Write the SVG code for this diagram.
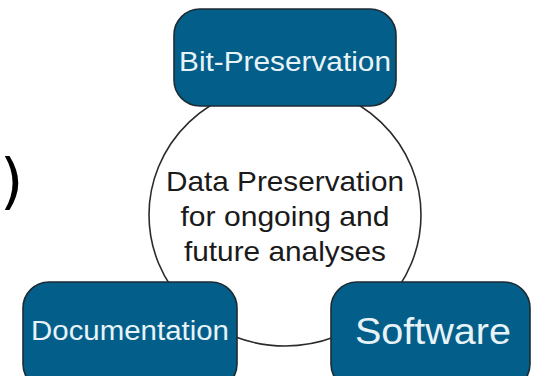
<svg xmlns="http://www.w3.org/2000/svg" width="533" height="376" viewBox="0 0 533 376">
  <style>
    .box { fill: #035f8a; stroke: #1d2b33; stroke-width: 1.6; }
    .hub { fill: #ffffff; stroke: #2b2b2b; stroke-width: 1.6; }
    .lbl { font-family: "Liberation Sans", Arial, sans-serif; fill: #e8f3f8; text-anchor: middle; }
    .hubtxt { font-family: "Liberation Sans", Arial, sans-serif; fill: #1a1a1a; text-anchor: middle; font-size: 28px; }
  </style>
  <rect width="533" height="376" fill="#ffffff"/>

  <!-- stray closing bracket at the left margin -->
  <text x="0" y="202" font-family="DejaVu Sans, sans-serif" font-size="60" fill="#000000">)</text>

  <g id="connectors"/>

  <!-- central goal -->
  <g id="node-data-preservation">
    <ellipse class="hub" cx="285" cy="215" rx="136" ry="131"/>
    <text class="hubtxt" x="285" y="191" textLength="238" lengthAdjust="spacingAndGlyphs">Data Preservation</text>
    <text class="hubtxt" x="285" y="226" textLength="209" lengthAdjust="spacingAndGlyphs">for ongoing and</text>
    <text class="hubtxt" x="285" y="261" textLength="202" lengthAdjust="spacingAndGlyphs">future analyses</text>
  </g>

  <!-- pillars -->
  <g id="node-bit-preservation">
    <rect class="box" x="174" y="9" width="222" height="97" rx="26"/>
    <text class="lbl" x="285" y="71" font-size="27" textLength="212" lengthAdjust="spacingAndGlyphs">Bit-Preservation</text>
  </g>

  <g id="node-documentation">
    <rect class="box" x="23" y="282" width="214" height="108" rx="26"/>
    <text class="lbl" x="130" y="340" font-size="27" textLength="198" lengthAdjust="spacingAndGlyphs">Documentation</text>
  </g>

  <g id="node-software">
    <rect class="box" x="331" y="282" width="199" height="108" rx="26"/>
    <text class="lbl" x="433" y="344" font-size="37" textLength="156" lengthAdjust="spacingAndGlyphs">Software</text>
  </g>
</svg>
